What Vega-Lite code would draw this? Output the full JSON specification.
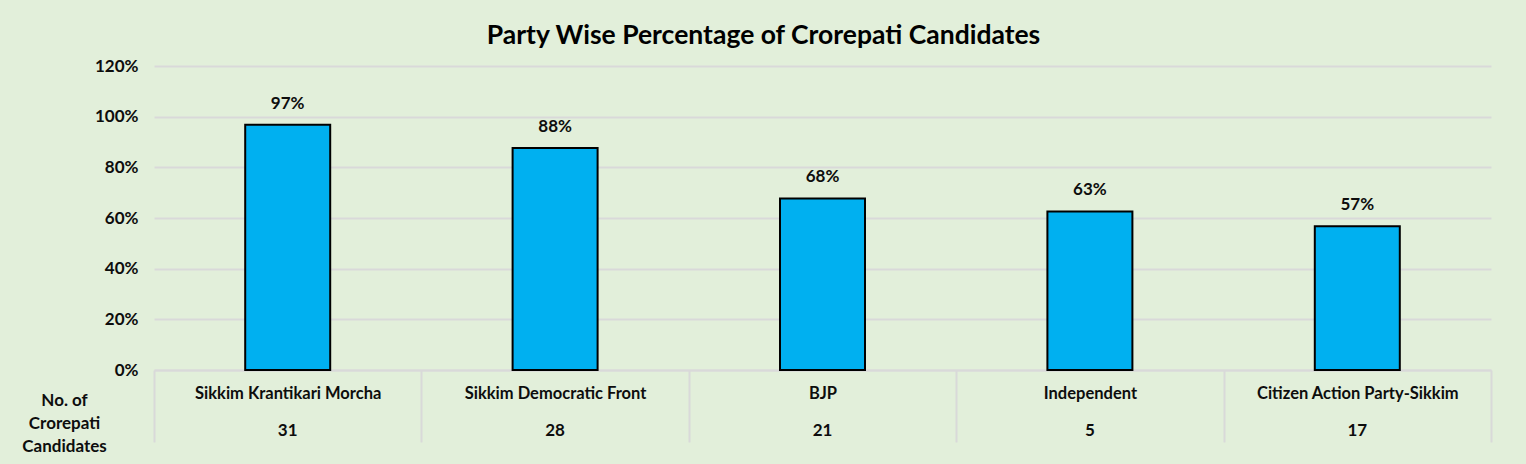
{
  "$schema": "https://vega.github.io/schema/vega-lite/v6.json",
  "width": 1337,
  "height": 304,
  "autosize": {"type": "none"},
  "padding": {"left": 154, "top": 66, "right": 35, "bottom": 94},
  "background": "#E2EFDA",
  "title": {
    "text": "Party Wise Percentage of Crorepati Candidates",
    "fontSize": 26.5,
    "font": "Lato",
    "fontWeight": "bold",
    "color": "#000000",
    "anchor": "middle",
    "dx": -59,
    "offset": 8
  },
  "config": {
    "view": {"stroke": null},
    "font": "Lato"
  },
  "data": {
    "values": [
      {"party": "Sikkim Krantikari Morcha", "pct": 0.968, "candidates": 31},
      {"party": "Sikkim Democratic Front", "pct": 0.876, "candidates": 28},
      {"party": "BJP", "pct": 0.677, "candidates": 21},
      {"party": "Independent", "pct": 0.626, "candidates": 5},
      {"party": "Citizen Action Party-Sikkim", "pct": 0.567, "candidates": 17}
    ]
  },
  "encoding": {
    "x": {
      "field": "party",
      "type": "nominal",
      "sort": null,
      "scale": {"paddingInner": 0, "paddingOuter": 0},
      "axis": {
        "title": null,
        "labelAngle": 0,
        "labelLimit": 0,
        "labelFontSize": 16.5,
        "labelFontWeight": "bold",
        "labelColor": "#0D0D0D",
        "labelPadding": -57,
        "domainColor": "#D9D9D9",
        "domainWidth": 2,
        "tickColor": "#D9D9D9",
        "tickWidth": 2,
        "tickSize": 72,
        "tickBand": "extent"
      }
    }
  },
  "layer": [
    {
      "mark": {"type": "bar", "size": 85, "color": "#00B0F0", "stroke": "#000000", "strokeWidth": 2},
      "encoding": {
        "y": {
          "field": "pct",
          "type": "quantitative",
          "scale": {"domain": [0, 1.2], "nice": false},
          "axis": {
            "values": [0, 0.2, 0.4, 0.6, 0.8, 1.0, 1.2],
            "format": ".0%",
            "domain": false,
            "ticks": false,
            "gridColor": "#D9D9D9",
            "gridWidth": 2,
            "labelFontSize": 17,
            "labelFontWeight": "bold",
            "labelColor": "#0D0D0D",
            "labelPadding": 16,
            "title": ["No. of", "Crorepati", "Candidates"],
            "titleAngle": 0,
            "titleAlign": "center",
            "titleBaseline": "middle",
            "titleFontSize": 17,
            "titleFontWeight": "bold",
            "titleColor": "#0D0D0D",
            "titleLineHeight": 23,
            "titleX": -90,
            "titleY": 334
          }
        }
      }
    },
    {
      "mark": {"type": "text", "baseline": "bottom", "dy": -12, "fontSize": 17, "fontWeight": "bold", "color": "#0D0D0D"},
      "encoding": {
        "y": {"field": "pct", "type": "quantitative"},
        "text": {"field": "pct", "type": "quantitative", "format": ".0%"}
      }
    },
    {
      "mark": {"type": "text", "baseline": "middle", "fontSize": 17, "fontWeight": "bold", "color": "#0D0D0D", "clip": false},
      "encoding": {
        "y": {"datum": -0.24},
        "text": {"field": "candidates", "type": "quantitative"}
      }
    }
  ]
}
